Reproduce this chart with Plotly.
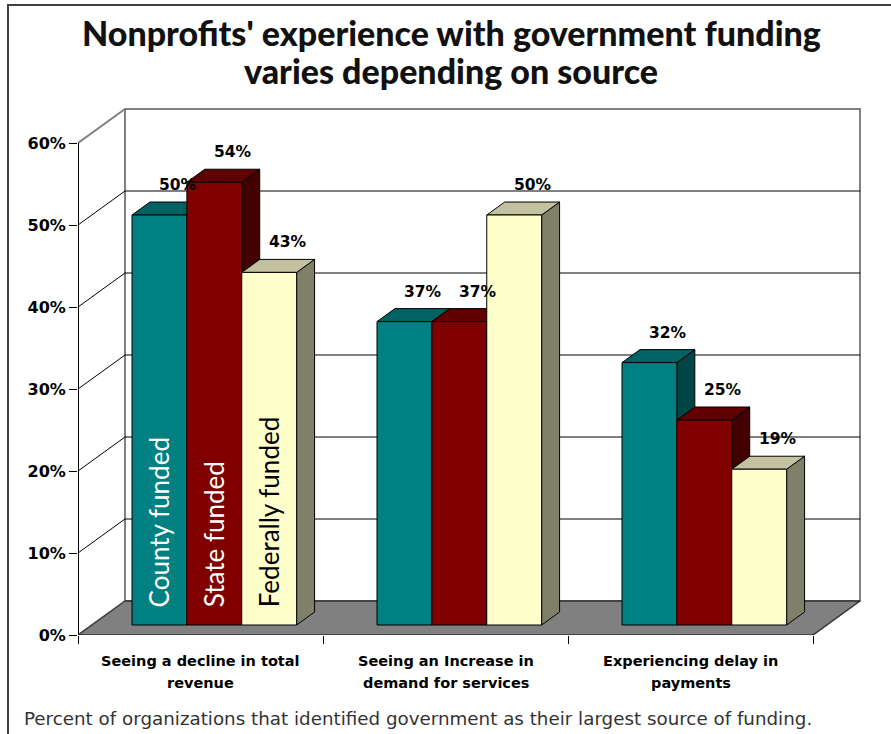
import plotly.graph_objects as go

# ---------------- data ----------------
categories = ["Seeing a decline in total<br>revenue",
              "Seeing an Increase in<br>demand for services",
              "Experiencing delay in<br>payments"]
series_names = ["County funded", "State funded", "Federally funded"]
county_funded = [50, 37, 32]
state_funded = [54, 37, 25]
federally_funded = [43, 50, 19]
y_tick_values = [0, 10, 20, 30, 40, 50, 60]
y_tick_labels = ["0%", "10%", "20%", "30%", "40%", "50%", "60%"]
title_text = "Nonprofits' experience with government funding<br>varies depending on source"
caption_text = "Percent of organizations that identified government as their largest source of funding."

series_values = [county_funded, state_funded, federally_funded]

# ---------------- styling / geometry ----------------
front_colors = ["#008080", "#800000", "#FFFFCC"]
top_colors = ["#006262", "#600000", "#C2C2A0"]
side_colors = ["#004646", "#420000", "#808068"]
legend_text_colors = ["white", "white", "black"]

PX_X = 245.0          # pixels per category unit
PX_Y = 8.2            # pixels per percent
DX = 47.0 / PX_X      # depth offset (category units)
DY = 34.0 / PX_Y      # depth offset (percent units)
F0, F1 = 0.294, 0.676 # bar front / back depth
W = 0.224             # bar width
YMAX = 60

def P(x, y, d):
    return x + d * DX, y + d * DY

fig = go.Figure()

def poly(points, fill, line_color="black", width=1):
    xs = [p[0] for p in points] + [points[0][0]]
    ys = [p[1] for p in points] + [points[0][1]]
    fig.add_trace(go.Scatter(x=xs, y=ys, mode="lines", fill="toself",
                             fillcolor=fill, line=dict(color=line_color, width=width),
                             hoverinfo="skip", showlegend=False))

def line(points, color="black", width=1):
    fig.add_trace(go.Scatter(x=[p[0] for p in points], y=[p[1] for p in points],
                             mode="lines", line=dict(color=color, width=width),
                             hoverinfo="skip", showlegend=False))

n = len(categories)

# back wall
poly([P(0, 0, 1), P(n, 0, 1), P(n, YMAX, 1), P(0, YMAX, 1)], "white", "#808080", 2)
# floor
poly([P(0, 0, 0), P(n, 0, 0), P(n, 0, 1), P(0, 0, 1)], "#808080", "#303030", 1.5)
# gridlines (side wall + back wall)
for v in y_tick_values[1:-1]:
    line([P(0, v, 0), P(0, v, 1), P(n, v, 1)], "black", 1)
# top edge of side wall
line([P(0, YMAX, 0), P(0, YMAX, 1)], "#808080", 2)
line([P(0, 0, 0), P(0, 0, 1)], "#505050", 1)
# front vertical axis line
line([P(0, 0, 0), P(0, YMAX, 0)], "black", 2)

# bars
for c in range(n):
    for i in range(len(series_values)):
        v = series_values[i][c]
        x0 = c + 0.5 + (i - 1.5) * W
        x1 = x0 + W
        poly([P(x1, 0, F0), P(x1, 0, F1), P(x1, v, F1), P(x1, v, F0)], side_colors[i])
        poly([P(x0, v, F0), P(x1, v, F0), P(x1, v, F1), P(x0, v, F1)], top_colors[i])
        poly([P(x0, 0, F0), P(x1, 0, F0), P(x1, v, F0), P(x0, v, F0)], front_colors[i])

annotations = []
# data labels
for c in range(n):
    for i in range(len(series_values)):
        v = series_values[i][c]
        x0 = c + 0.5 + (i - 1.5) * W
        lx, ly = P(x0 + W / 2, v, F1)
        annotations.append(dict(x=lx, y=ly, xref="x", yref="y", text=f"{v}%",
                                showarrow=False, yanchor="middle", xanchor="center",
                                yshift=17, xshift=1,
                                font=dict(family="DejaVu Sans", size=15.5, color="black",
                                          weight="bold")))
# in-bar legend labels
for i, name in enumerate(series_names):
    x0 = 0 + 0.5 + (i - 1.5) * W
    lx, ly = P(x0 + W / 2, 0, F0)
    annotations.append(dict(x=lx, y=ly, xref="x", yref="y", text=name, textangle=-90,
                            showarrow=False, yanchor="bottom", xanchor="center", yshift=16,
                            font=dict(family="Lato", size=26, color=legend_text_colors[i])))
# category labels (two lines each)
for c, cat in enumerate(categories):
    for k, part in enumerate(cat.split("<br>")):
        annotations.append(dict(x=c + 0.5, y=0, xref="x", yref="y", text=part,
                                showarrow=False, yanchor="middle", xanchor="center",
                                yshift=-26 - 22 * k,
                                font=dict(family="DejaVu Sans", size=14.5, color="black",
                                          weight="bold")))
# title (two lines)
for k, part in enumerate(title_text.split("<br>")):
    annotations.append(dict(x=(451 - 78) / 784, y=(635 - 32 - 38 * k) / 533,
                            xref="paper", yref="paper",
                            text=part, showarrow=False, xanchor="center", yanchor="middle",
                            font=dict(family="Lato", size=34, color="#111111", weight=900)))
# caption
annotations.append(dict(x=(22 - 78) / 784, y=(635 - 718) / 533, xref="paper", yref="paper",
                        text=caption_text, showarrow=False, xanchor="left", yanchor="middle",
                        font=dict(family="DejaVu Sans", size=18.3, color="#333333")))

fig.update_layout(
    width=891, height=734, autosize=False,
    margin=dict(l=78, r=29, t=102, b=99, pad=0),
    paper_bgcolor="white", plot_bgcolor="white",
    showlegend=False,
    annotations=annotations,
    shapes=[dict(type="rect", xref="paper", yref="paper",
                 x0=(8 - 78) / 784, y0=(635 - 760) / 533,
                 x1=(910 - 78) / 784, y1=(635 - 5) / 533,
                 line=dict(color="#404040", width=2), fillcolor="rgba(0,0,0,0)", layer="below")],
    xaxis=dict(range=[0, 3.2], showgrid=False, zeroline=False, showline=False,
               tickvals=[0, 1, 2, 3], ticktext=["", "", "", ""],
               ticks="outside", ticklen=8, tickcolor="black", tickwidth=1, fixedrange=True),
    yaxis=dict(range=[0, 65], showgrid=False, zeroline=False, showline=False,
               tickvals=y_tick_values, ticktext=y_tick_labels,
               ticks="outside", ticklen=8, tickcolor="black", tickwidth=1,
               tickfont=dict(family="DejaVu Sans", size=16, color="black", weight="bold"),
               fixedrange=True),
)

fig.write_html("out.html")
